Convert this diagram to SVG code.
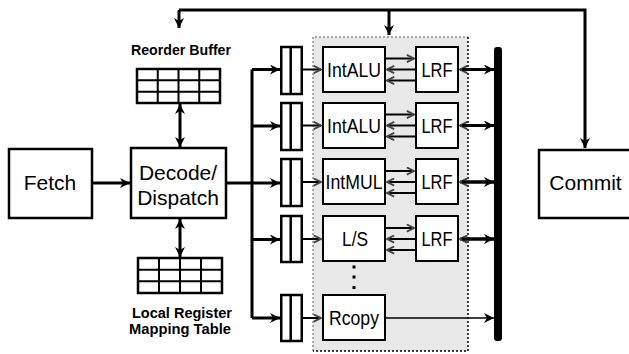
<svg xmlns="http://www.w3.org/2000/svg" width="629" height="354" viewBox="0 0 629 354">
<style>
.box{fill:#fff;stroke:#000;stroke-width:2.5}
.ubox{fill:#fff;stroke:#000;stroke-width:2}
.tbl{fill:#fff;stroke:#000;stroke-width:2.5}
.grid{stroke:#000;stroke-width:2;fill:none}
.big{font-family:"Liberation Sans",Arial,sans-serif;font-size:21px;fill:#000;text-anchor:middle}
.unit{font-family:"Liberation Sans",Arial,sans-serif;font-size:20px;fill:#000;text-anchor:middle}
.lbl{font-family:"Liberation Sans",Arial,sans-serif;font-size:14px;font-weight:bold;fill:#000;text-anchor:middle}
.w3{stroke:#000;stroke-width:3;fill:none}
.w2{stroke:#000;stroke-width:2;fill:none}
.w25{stroke:#000;stroke-width:2.5;fill:none}
.w15{stroke:#000;stroke-width:1.5;fill:none}
</style>
<defs>
<marker id="ah" viewBox="0 0 10 10" refX="10" refY="5" markerWidth="10" markerHeight="10" markerUnits="userSpaceOnUse" orient="auto-start-reverse">
<path d="M0,0 L10,5 L0,10 L3,5 z" fill="#000"/>
</marker>
<marker id="sm" viewBox="0 0 10 10" refX="9" refY="5" markerWidth="9" markerHeight="9" markerUnits="userSpaceOnUse" orient="auto-start-reverse">
<path d="M1,1 L9,5 L1,9" fill="none" stroke="#444" stroke-width="2"/>
</marker>
</defs>

<rect x="313" y="37" width="155" height="314" fill="#e8e8e8"/>
<path d="M313,351 V37 H468" fill="none" stroke="#8a8a8a" stroke-width="1.5" stroke-dasharray="2,2"/>
<path d="M468,37 V351 H313" fill="none" stroke="#000" stroke-width="1.5" stroke-dasharray="2,2"/>

<g id="connectors">
<path class="w3" d="M179,10 H585 V148" marker-end="url(#ah)"/>
<path class="w3" d="M179,10 V28" marker-end="url(#ah)"/>
<path class="w3" d="M389,10 V35" marker-end="url(#ah)"/>
<path class="w3" d="M180,104 V147" marker-start="url(#ah)" marker-end="url(#ah)"/>
<path class="w3" d="M180,219 V257" marker-start="url(#ah)" marker-end="url(#ah)"/>
<path class="w3" d="M92,183 H130" marker-end="url(#ah)"/>
<path class="w3" d="M226,183 H252"/>
<path class="w3" d="M252,69.5 V318"/>
<path class="w3" d="M252,69.5 H280" marker-end="url(#ah)"/>
<path class="w3" d="M252,126 H280" marker-end="url(#ah)"/>
<path class="w3" d="M252,183 H280" marker-end="url(#ah)"/>
<path class="w3" d="M252,239.5 H280" marker-end="url(#ah)"/>
<path class="w3" d="M252,318 H280" marker-end="url(#ah)"/>
<path class="w2" d="M303,69.5 H321" marker-end="url(#sm)"/>
<path class="w2" d="M303,125.5 H321" marker-end="url(#sm)"/>
<path class="w2" d="M303,182 H321" marker-end="url(#sm)"/>
<path class="w2" d="M303,239 H321" marker-end="url(#sm)"/>
<path class="w2" d="M303,318 H321" marker-end="url(#sm)"/>
<path class="w2" d="M385,58.5 H414" marker-end="url(#sm)"/>
<path class="w2" d="M416,69.5 H387" marker-end="url(#sm)"/>
<path class="w2" d="M416,80.5 H387" marker-end="url(#sm)"/>
<path class="w2" d="M385,114.5 H414" marker-end="url(#sm)"/>
<path class="w2" d="M416,125.5 H387" marker-end="url(#sm)"/>
<path class="w2" d="M416,136.5 H387" marker-end="url(#sm)"/>
<path class="w2" d="M385,171 H414" marker-end="url(#sm)"/>
<path class="w2" d="M416,182 H387" marker-end="url(#sm)"/>
<path class="w2" d="M416,193 H387" marker-end="url(#sm)"/>
<path class="w2" d="M385,228 H414" marker-end="url(#sm)"/>
<path class="w2" d="M416,239 H387" marker-end="url(#sm)"/>
<path class="w2" d="M416,250 H387" marker-end="url(#sm)"/>
<path class="w3" d="M494,69.5 H460" marker-end="url(#sm)"/>
<path class="w3" d="M462,69.5 H494" marker-end="url(#ah)"/>
<path class="w3" d="M494,125.5 H460" marker-end="url(#sm)"/>
<path class="w3" d="M462,125.5 H494" marker-end="url(#ah)"/>
<path class="w3" d="M494,182 H460" marker-end="url(#sm)"/>
<path class="w3" d="M462,182 H494" marker-end="url(#ah)"/>
<path class="w3" d="M494,239 H460" marker-end="url(#sm)"/>
<path class="w3" d="M462,239 H494" marker-end="url(#ah)"/>
<path class="w15" d="M385,318 H494" marker-end="url(#ah)"/>
</g>

<g id="fetch">
<rect class="box" x="9" y="149" width="83" height="69"/>
<text class="big" x="50" y="190">Fetch</text>
</g>
<g id="decode">
<rect class="box" x="131" y="148" width="95" height="70"/>
<text class="big" x="178" y="180">Decode/</text>
<text class="big" x="178" y="205">Dispatch</text>
</g>
<g id="commit">
<rect class="box" x="539" y="150" width="100" height="68"/>
<text class="big" x="585.5" y="190">Commit</text>
</g>

<g id="rob">
<text class="lbl" x="181" y="55" textLength="100" lengthAdjust="spacingAndGlyphs">Reorder Buffer</text>
<rect class="tbl" x="137" y="69" width="83" height="34"/>
<path class="grid" d="M157.75,69 V103 M178.5,69 V103 M199.25,69 V103 M137,80.3 H220 M137,91.7 H220"/>
</g>
<g id="lrmt">
<rect class="tbl" x="138" y="258" width="84" height="35"/>
<path class="grid" d="M159,258 V293 M180,258 V293 M201,258 V293 M138,269.7 H222 M138,281.3 H222"/>
<text class="lbl" x="182" y="318" textLength="100" lengthAdjust="spacingAndGlyphs">Local Register</text>
<text class="lbl" x="180" y="334" textLength="102" lengthAdjust="spacingAndGlyphs">Mapping Table</text>
</g>

<g id="queues">
<g id="q1"><rect class="box" x="281.25" y="47" width="20.5" height="47"/><path class="w25" d="M290.7,47 V94"/></g>
<g id="q2"><rect class="box" x="281.25" y="103" width="20.5" height="47"/><path class="w25" d="M290.7,103 V150"/></g>
<g id="q3"><rect class="box" x="281.25" y="159" width="20.5" height="47"/><path class="w25" d="M290.7,159 V206"/></g>
<g id="q4"><rect class="box" x="281.25" y="216" width="20.5" height="46"/><path class="w25" d="M290.7,216 V262"/></g>
<g id="q5"><rect class="box" x="281.25" y="295" width="20.5" height="46"/><path class="w25" d="M290.7,295 V341"/></g>
</g>

<g id="intalu1"><rect class="ubox" x="323" y="47" width="62" height="45"/><text class="unit" x="354" y="76.5" textLength="54" lengthAdjust="spacingAndGlyphs">IntALU</text></g>
<g id="lrf1"><rect class="ubox" x="416" y="47" width="42" height="45"/><text class="unit" x="437" y="76.5" textLength="31" lengthAdjust="spacingAndGlyphs">LRF</text></g>
<g id="intalu2"><rect class="ubox" x="323" y="103" width="62" height="45"/><text class="unit" x="354" y="132.5" textLength="54" lengthAdjust="spacingAndGlyphs">IntALU</text></g>
<g id="lrf2"><rect class="ubox" x="416" y="103" width="42" height="45"/><text class="unit" x="437" y="132.5" textLength="31" lengthAdjust="spacingAndGlyphs">LRF</text></g>
<g id="intmul"><rect class="ubox" x="323" y="159" width="62" height="45"/><text class="unit" x="354" y="189" textLength="57" lengthAdjust="spacingAndGlyphs">IntMUL</text></g>
<g id="lrf3"><rect class="ubox" x="416" y="159" width="42" height="45"/><text class="unit" x="437" y="189" textLength="31" lengthAdjust="spacingAndGlyphs">LRF</text></g>
<g id="ls"><rect class="ubox" x="323" y="216" width="62" height="45"/><text class="unit" x="355" y="246" textLength="26" lengthAdjust="spacingAndGlyphs">L/S</text></g>
<g id="lrf4"><rect class="ubox" x="416" y="216" width="42" height="45"/><text class="unit" x="437" y="246" textLength="31" lengthAdjust="spacingAndGlyphs">LRF</text></g>
<g id="dots"><rect x="352.5" y="265.5" width="3" height="3"/><rect x="352.5" y="275.5" width="3" height="3"/><rect x="352.5" y="286" width="3" height="3"/></g>
<g id="rcopy"><rect class="ubox" x="323" y="295" width="62" height="45"/><text class="unit" x="354" y="325" textLength="50" lengthAdjust="spacingAndGlyphs">Rcopy</text></g>

<g id="bus"><rect x="494" y="47" width="8" height="294" rx="3" fill="#000"/></g>
</svg>
